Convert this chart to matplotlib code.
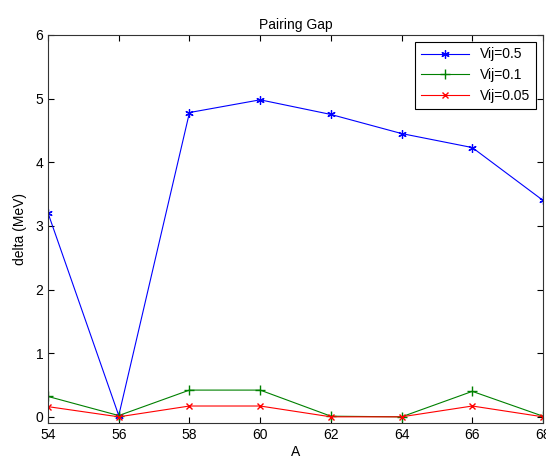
import matplotlib
matplotlib.use("Agg")
import matplotlib.pyplot as plt

plt.rcParams['font.family'] = ['Liberation Sans', 'DejaVu Sans']

A = [54, 56, 58, 60, 62, 64, 66, 68]
delta_05 = [3.2, 0.02, 4.78, 4.98, 4.75, 4.45, 4.23, 3.4]
delta_01 = [0.32, 0.02, 0.42, 0.42, 0.01, 0.0, 0.4, 0.01]
delta_005 = [0.16, 0.0, 0.17, 0.17, 0.0, 0.0, 0.17, 0.0]

fig = plt.figure(figsize=(5.46, 4.59), dpi=100)
ax = fig.add_axes([0.088, 0.078, 0.9065, 0.846])

# matlab-like asterisk marker: 3 lines through the centre
ax.plot(A, delta_05, color='#0000ff', marker=(6, 2, 0), lw=0.8, ms=6,
        mew=0.9, label='Vij=0.5')
ax.plot(A, delta_01, color='#008000', marker='+', lw=0.8, ms=7, label='Vij=0.1')
ax.plot(A, delta_005, color='#ff0000', marker='x', lw=0.8, ms=4, label='Vij=0.05')

ax.set_xlim(54, 68)
ax.set_ylim(-0.1, 6)
ax.set_xticks(A)
ax.set_yticks(range(0, 7))
ax.tick_params(direction='in', top=True, right=True, labelsize=10, length=4)
for s in ax.spines.values():
    s.set_color('#333333')

ax.set_title('Pairing Gap', fontsize=10, pad=4)
ax.set_xlabel('A', fontsize=10, labelpad=2)
ax.set_ylabel('delta (MeV)', fontsize=10, labelpad=6)

leg = ax.legend(loc='upper right', fontsize=10, fancybox=False, framealpha=1,
                edgecolor='black', borderaxespad=0.5, handlelength=3.5)
leg.get_frame().set_linewidth(0.8)

fig.savefig('out.png', dpi=100)
